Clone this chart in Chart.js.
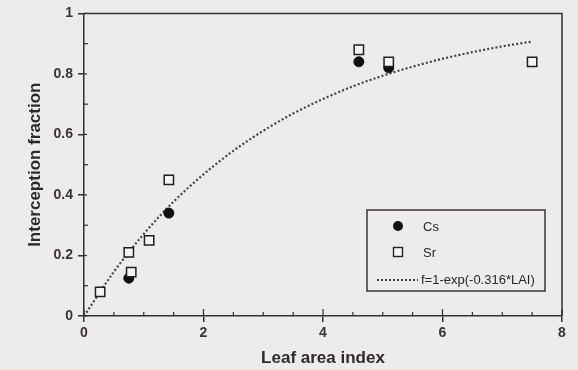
<!DOCTYPE html>
<html>
<head>
<meta charset="utf-8">
<script src="https://cdn.jsdelivr.net/npm/chart.js@4"></script>
<style>
  html, body { margin: 0; padding: 0; background: #ececea; }
  #wrap { width: 578px; height: 370px; }
</style>
</head>
<body>
<div id="wrap"><canvas id="c" width="578" height="370"></canvas></div>
<script>
// ---- data ----
const csLAI = [0.75, 1.42, 4.6, 5.1];
const csFrac = [0.125, 0.34, 0.84, 0.82];
const srLAI = [0.27, 0.75, 0.79, 1.09, 1.42, 4.6, 5.1, 7.5];
const srFrac = [0.08, 0.21, 0.145, 0.25, 0.45, 0.88, 0.84, 0.84];
const fitLAI = [0, 0.5, 1, 1.5, 2, 2.5, 3, 3.5, 4, 4.5, 5, 5.5, 6, 6.5, 7, 7.5];
const fitFrac = [0, 0.146, 0.271, 0.378, 0.468, 0.546, 0.612, 0.669, 0.717, 0.759, 0.794, 0.824, 0.850, 0.872, 0.891, 0.907];
const xTickLabels = ['0', '2', '4', '6', '8'];
const yTickLabels = ['0', '0.2', '0.4', '0.6', '0.8', '1'];
const legendLabels = ['Cs', 'Sr', 'f=1-exp(-0.316*LAI)'];
const xTitle = 'Leaf area index';
const yTitle = 'Interception fraction';

const ink = '#333030';
const dotInk = '#444040';

const pts = (xs, ys) => xs.map((x, i) => ({ x: x, y: ys[i] }));

const framePlugin = {
  id: 'frame',
  afterDraw(chart) {
    const { ctx, chartArea: a, scales } = chart;
    const xs = scales.x, ys = scales.y;
    ctx.save();
    ctx.strokeStyle = ink;
    ctx.lineWidth = 1.5;
    // top and right frame
    ctx.beginPath();
    ctx.moveTo(a.left, a.top); ctx.lineTo(a.right, a.top); ctx.lineTo(a.right, a.bottom);
    ctx.stroke();
    // inside ticks x
    ctx.lineWidth = 1.2;
    for (let v = 0; v <= 8.0001; v += 0.5) {
      const px = xs.getPixelForValue(v);
      const major = Math.abs(v / 2 - Math.round(v / 2)) < 1e-6;
      const len = major ? 7 : 4;
      ctx.beginPath(); ctx.moveTo(px, a.bottom); ctx.lineTo(px, a.bottom - len); ctx.stroke();
    }
    for (let v = 0; v <= 1.0001; v += 0.1) {
      const py = ys.getPixelForValue(v);
      const major = Math.abs(v / 0.2 - Math.round(v / 0.2)) < 1e-6;
      const len = major ? 3 : 4;
      ctx.beginPath(); ctx.moveTo(a.left, py); ctx.lineTo(a.left + len, py); ctx.stroke();
    }
    // legend
    const lx = 367, ly = 210, lw = 178, lh = 81;
    ctx.lineWidth = 1.5;
    ctx.strokeStyle = '#3a3636';
    ctx.strokeRect(lx, ly, lw, lh);
    ctx.fillStyle = '#2a2727';
    ctx.font = '13px "Liberation Sans", Arial, sans-serif';
    ctx.textBaseline = 'middle';
    ctx.textAlign = 'left';
    // Cs
    ctx.beginPath(); ctx.arc(398, 226, 5, 0, Math.PI * 2); ctx.fillStyle = '#111'; ctx.fill();
    ctx.fillStyle = '#2a2727';
    ctx.fillText(legendLabels[0], 423, 227);
    // Sr
    ctx.fillStyle = '#f4f4f2'; ctx.fillRect(393.5, 247.5, 9, 9);
    ctx.strokeStyle = '#222'; ctx.lineWidth = 1.4; ctx.strokeRect(393.5, 247.5, 9, 9);
    ctx.fillStyle = '#2a2727';
    ctx.fillText(legendLabels[1], 423, 253);
    // fit line
    ctx.strokeStyle = dotInk; ctx.lineWidth = 2; ctx.setLineDash([2, 2]);
    ctx.beginPath(); ctx.moveTo(377, 280); ctx.lineTo(418, 280); ctx.stroke();
    ctx.setLineDash([]);
    ctx.fillText(legendLabels[2], 421, 280);
    ctx.restore();
  }
};

new Chart(document.getElementById('c'), {
  type: 'scatter',
  data: {
    datasets: [
      {
        label: legendLabels[1],
        data: pts(srLAI, srFrac),
        pointStyle: 'rect',
        pointRadius: 6.6,
        pointBackgroundColor: '#f4f4f2',
        pointBorderColor: '#1e1e1e',
        pointBorderWidth: 1.5,
        order: 0
      },
      {
        label: legendLabels[0],
        data: pts(csLAI, csFrac),
        pointStyle: 'circle',
        pointRadius: 5,
        pointBackgroundColor: '#111',
        pointBorderColor: '#111',
        pointBorderWidth: 1,
        order: 1
      },
      {
        label: legendLabels[2],
        type: 'line',
        data: pts(fitLAI, fitFrac),
        showLine: true,
        borderColor: dotInk,
        borderWidth: 2.2,
        borderDash: [2, 2.2],
        pointRadius: 0,
        fill: false,
        cubicInterpolationMode: 'monotone',
        order: 2
      }
    ]
  },
  options: {
    responsive: false,
    animation: false,
    devicePixelRatio: 1,
    layout: { padding: { top: 13, right: 16, left: 0, bottom: 0 } },
    plugins: { legend: { display: false }, tooltip: { enabled: false } },
    scales: {
      x: {
        type: 'linear', min: 0, max: 8,
        afterFit(s) { s.height = 54; },
        grid: { drawOnChartArea: false, drawTicks: true, tickLength: 6, color: ink, lineWidth: 1.5 },
        border: { display: true, color: ink, width: 1.5 },
        ticks: {
          stepSize: 2, padding: 3, color: '#3a3434',
          font: { family: '"Liberation Sans", Arial, sans-serif', size: 14, weight: 'bold' },
          callback: (v, i) => xTickLabels[i]
        },
        title: {
          display: true, text: xTitle, color: '#2e2a2a',
          font: { family: '"Liberation Sans", Arial, sans-serif', size: 17, weight: 'bold' },
          padding: { top: 0, bottom: 1 }
        }
      },
      y: {
        type: 'linear', min: 0, max: 1,
        afterFit(s) { s.width = 84; },
        grid: { drawOnChartArea: false, drawTicks: true, tickLength: 6, color: ink, lineWidth: 1.5 },
        border: { display: true, color: ink, width: 1.5 },
        ticks: {
          stepSize: 0.2, padding: 5, color: '#3a3434',
          font: { family: '"Liberation Sans", Arial, sans-serif', size: 14, weight: 'bold' },
          callback: (v, i) => yTickLabels[i]
        },
        title: {
          display: true, text: yTitle, color: '#2e2a2a',
          font: { family: '"Liberation Sans", Arial, sans-serif', size: 17, weight: 'bold' },
          padding: { top: 25, bottom: 0 }
        }
      }
    }
  },
  plugins: [framePlugin]
});
</script>
</body>
</html>
